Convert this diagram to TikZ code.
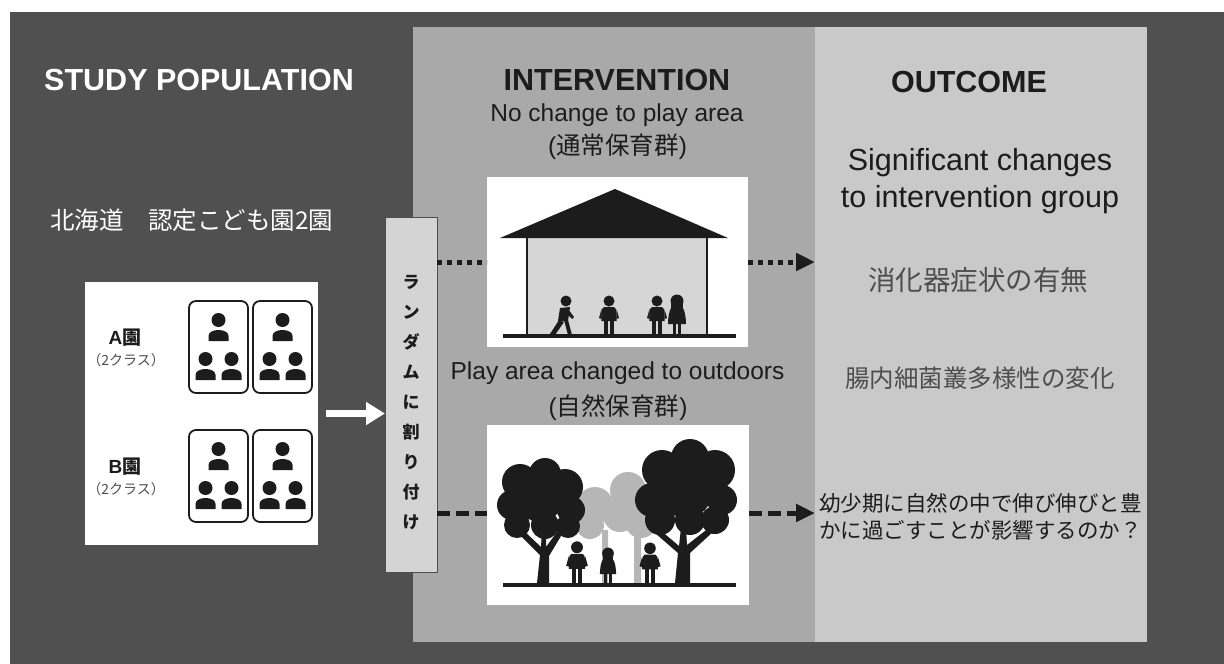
\documentclass[tikz,border=0pt]{standalone}
\usepackage{fontspec}
\setmainfont{Liberation Sans}
\newfontfamily\jp{Noto Sans CJK JP}
\usetikzlibrary{arrows.meta,calc}

\definecolor{bgdark}{HTML}{505050}
\definecolor{intpanel}{HTML}{A9A9A9}
\definecolor{outpanel}{HTML}{C9C9C9}
\definecolor{randfill}{HTML}{D4D4D4}
\definecolor{ink}{HTML}{1C1C1C}
\definecolor{roomfill}{HTML}{D6D6D6}
\definecolor{bgtree}{HTML}{B6B6B6}
\definecolor{softink}{HTML}{4E4E4E}

\tikzset{
  block/.style={inner sep=0pt, outer sep=0pt, draw=none},
  classbox/.style={block, draw=ink, line width=1.8pt, fill=white, rounded corners=7pt,
                   minimum width=59pt, minimum height=92pt},
  headline/.style={font=\fontsize{30.5}{36}\selectfont\bfseries, text=ink, inner sep=0pt},
  subline/.style={font=\fontsize{24.5}{29}\selectfont, text=ink, inner sep=0pt},
  dotline/.style={draw=ink, line width=5pt, dash pattern=on 5pt off 5pt},
  dashline/.style={draw=ink, line width=5pt, dash pattern=on 13pt off 6pt},
  tip/.style={-{Triangle[length=19pt,width=17pt]}},
  person/.pic={
    \fill[ink] (0,-7) circle[radius=7];
    \fill[ink] (-10,14) -- (-10,9) .. controls (-10,1) and (10,1) .. (10,9) -- (10,14) -- cycle;
  },
  kid/.pic={
    \fill[ink] (0,-34) circle[radius=5.5];
    \fill[ink] (-5,-28) .. controls (-8,-27) and (-8,-20) .. (-7.5,-14) -- (7.5,-14)
               .. controls (8,-20) and (8,-27) .. (5,-28) -- cycle;
    \fill[ink] (-7.5,-26) -- (-10,-17) -- (-7.5,-16) -- cycle;
    \fill[ink] (7.5,-26) -- (10,-17) -- (7.5,-16) -- cycle;
    \fill[ink] (-5,-15) rectangle (-0.8,0);
    \fill[ink] (0.8,-15) rectangle (5,0);
  },
  girl/.pic={
    \fill[ink] (0,-34) circle[radius=6.5];
    \fill[ink] (-6,-36) rectangle (6,-27);
    \fill[ink] (-5,-28) .. controls (-8,-26) and (-9,-16) .. (-9,-11) -- (9,-11)
               .. controls (9,-16) and (8,-26) .. (5,-28) -- cycle;
    \fill[ink] (-4,-12) rectangle (-1,0);
    \fill[ink] (1,-12) rectangle (4,0);
  },
  runner/.pic={
    \fill[ink] (3,-34) circle[radius=5.5];
    \fill[ink] (-3,-27) -- (7,-28) -- (5,-14) -- (-5,-14) -- cycle;
    \fill[ink] (5,-26) -- (11,-18) -- (9,-16) -- (3,-22) -- cycle;
    \fill[ink] (-4,-15) -- (-11,-4) -- (-14,0) -- (-8,0) -- (1,-13) -- cycle;
    \fill[ink] (1,-15) -- (5,0) -- (9,0) -- (5,-15) -- cycle;
  }
}

\begin{document}
\begin{tikzpicture}[x=1pt,y=-1pt]
\useasboundingbox (0,0) rectangle (1224,664);
\fill[white] (0,0) rectangle (1224,664);
\fill[bgdark] (10,12) rectangle (1224,664);

% the two right-hand panels
\node[block, fill=intpanel, minimum width=402pt, minimum height=615pt, anchor=north west] (intv) at (413,27) {};
\node[block, fill=outpanel, minimum width=332pt, minimum height=615pt, anchor=north west] (outc) at (815,27) {};

% column headings
\node[headline, text=white] (studytitle) at (199,80) {STUDY POPULATION};
\node[headline] (intvtitle) at (617,80) {INTERVENTION};
\node[headline] (outctitle) at (969,82) {OUTCOME};

\node[anchor=west, inner sep=0pt, text=white, font=\fontsize{24.5}{29}\selectfont\jp] (hokkaido) at (50,220) {北海道　認定こども園2園};

% study population: two nurseries with two classes each
\node[block, fill=white, minimum width=233pt, minimum height=263pt, anchor=north west] (pop) at (85,282) {};
\node[classbox, anchor=north west] (a1) at (189,301) {};
\node[classbox, anchor=north west] (a2) at (253,301) {};
\node[classbox, anchor=north west] (b1) at (189,430) {};
\node[classbox, anchor=north west] (b2) at (253,430) {};
\foreach \cx in {218.5,282.5}{
  \foreach \oy in {0,129}{
    \pic at (\cx,327+\oy) {person};
    \pic at (\cx-13,366+\oy) {person};
    \pic at (\cx+13,366+\oy) {person};
  }
}
\node[inner sep=0pt, text=ink, font=\fontsize{19}{21}\selectfont\bfseries] (alabel) at (125,338) {A{\jp 園}};
\node[inner sep=0pt, text=softink, font=\fontsize{14}{16}\selectfont\jp] (aclass) at (126,360) {（2クラス）};
\node[inner sep=0pt, text=ink, font=\fontsize{19}{21}\selectfont\bfseries] (blabel) at (125,467) {B{\jp 園}};
\node[inner sep=0pt, text=softink, font=\fontsize{14}{16}\selectfont\jp] (bclass) at (126,489) {（2クラス）};

% randomisation bar
\node[block, fill=randfill, draw=softink, line width=0.8pt, minimum width=52pt, minimum height=355pt] (rand) at (411,394.5) {};
\node[inner sep=0pt, align=center, text=ink, font=\fontsize{17}{30}\selectfont\jp\bfseries] (randtxt) at (411,402.5)
  {ラ\\ン\\ダ\\ム\\に\\割\\り\\付\\け};

\draw[white, line width=7pt, shorten <=8pt, -{Triangle[length=19pt,width=22pt]}] (pop.east) -- (pop.east -| rand.west);

% intervention arms
\node[subline] (ctrl) at (617,115) {No change to play area};
\node[subline] (ctrljp) at (617.5,147) {({\jp 通常保育群})};
\node[subline] (natural) at (617.5,373) {Play area changed to outdoors};
\node[subline] (naturaljp) at (618,408) {({\jp 自然保育群})};

\node[block, fill=white, minimum width=261pt, minimum height=170pt] (house) at (617.5,262) {};
\node[block, fill=white, minimum width=262pt, minimum height=180pt] (forest) at (617.5,515) {};

% indoor play area
\fill[roomfill] (527,238) rectangle (707,335);
\fill[ink] (500,238) -- (615,189) -- (728,238) -- cycle;
\draw[ink, line width=2pt] (527,238) -- (527,335) (707,238) -- (707,335);
\draw[ink, line width=3.5pt] (503,336) -- (736,336);
\pic at (563,335) {runner};
\pic at (609,335) {kid};
\pic at (657,335) {kid};
\pic at (677,335) {girl};

% outdoor play area: background trees
\fill[bgtree] (595,505) circle[radius=18] (590,525) circle[radius=14]
              (628,490) circle[radius=18] (645,502) circle[radius=18]
              (620,515) circle[radius=17] (641,522) circle[radius=16];
\fill[bgtree] (602,583) rectangle (608,530) (634,583) rectangle (641,530);
% foreground trees
\fill[ink] (520,482) circle[radius=18] (545,474) circle[radius=16] (565,487) circle[radius=18]
           (512,505) circle[radius=15] (540,500) circle[radius=22] (571,510) circle[radius=14]
           (517,525) circle[radius=13] (545,525) circle[radius=14] (568,526) circle[radius=12];
\fill[ink] (537,583) -- (540,555) -- (518,533) -- (522,529) -- (541,547) -- (542,530) -- (546,530)
           -- (546,547) -- (560,528) -- (564,531) -- (549,556) -- (549,583) -- cycle;
\fill[ink] (662,470) circle[radius=20] (690,458) circle[radius=19] (715,470) circle[radius=20]
           (652,500) circle[radius=17] (686,492) circle[radius=26] (722,500) circle[radius=15]
           (660,520) circle[radius=15] (690,520) circle[radius=15] (715,520) circle[radius=14];
\fill[ink] (675,583) -- (678,553) -- (655,533) -- (659,529) -- (679,546) -- (681,528) -- (686,528)
           -- (687,545) -- (710,527) -- (714,531) -- (690,553) -- (690,583) -- cycle;
\draw[ink, line width=3.5pt] (503,585) -- (736,585);
\pic[scale=1.08] at (577,584) {kid};
\pic[scale=0.9] at (608,584) {girl};
\pic[scale=1.05] at (650,584) {kid};

% connectors to the outcomes
\draw[dotline] (rand.east |- house.west) -- (house.west);
\draw[dotline, tip] (house.east) -- (house.east -| outc.west);
\draw[dashline] ([yshift=2pt]rand.east |- forest.west) -- ([yshift=2pt]forest.west);
\draw[dashline, tip] ([yshift=2pt]forest.east) -- ([yshift=2pt]forest.east -| outc.west);

% outcomes
\node[inner sep=0pt, align=center, text=ink, font=\fontsize{30.5}{37}\selectfont] (sig) at (980,181.5)
  {Significant changes\\to intervention group};
\node[inner sep=0pt, text=softink, font=\fontsize{27.5}{30}\selectfont\jp] (gi) at (978,280) {消化器症状の有無};
\node[inner sep=0pt, text=softink, font=\fontsize{24.5}{28}\selectfont\jp] (gut) at (980,378) {腸内細菌叢多様性の変化};
\node[anchor=west, inner sep=0pt, align=left, text=ink, font=\fontsize{21.5}{27}\selectfont\jp] (question) at (819,516.5)
  {幼少期に自然の中で伸び伸びと豊\\かに過ごすことが影響するのか？};
\end{tikzpicture}
\end{document}
